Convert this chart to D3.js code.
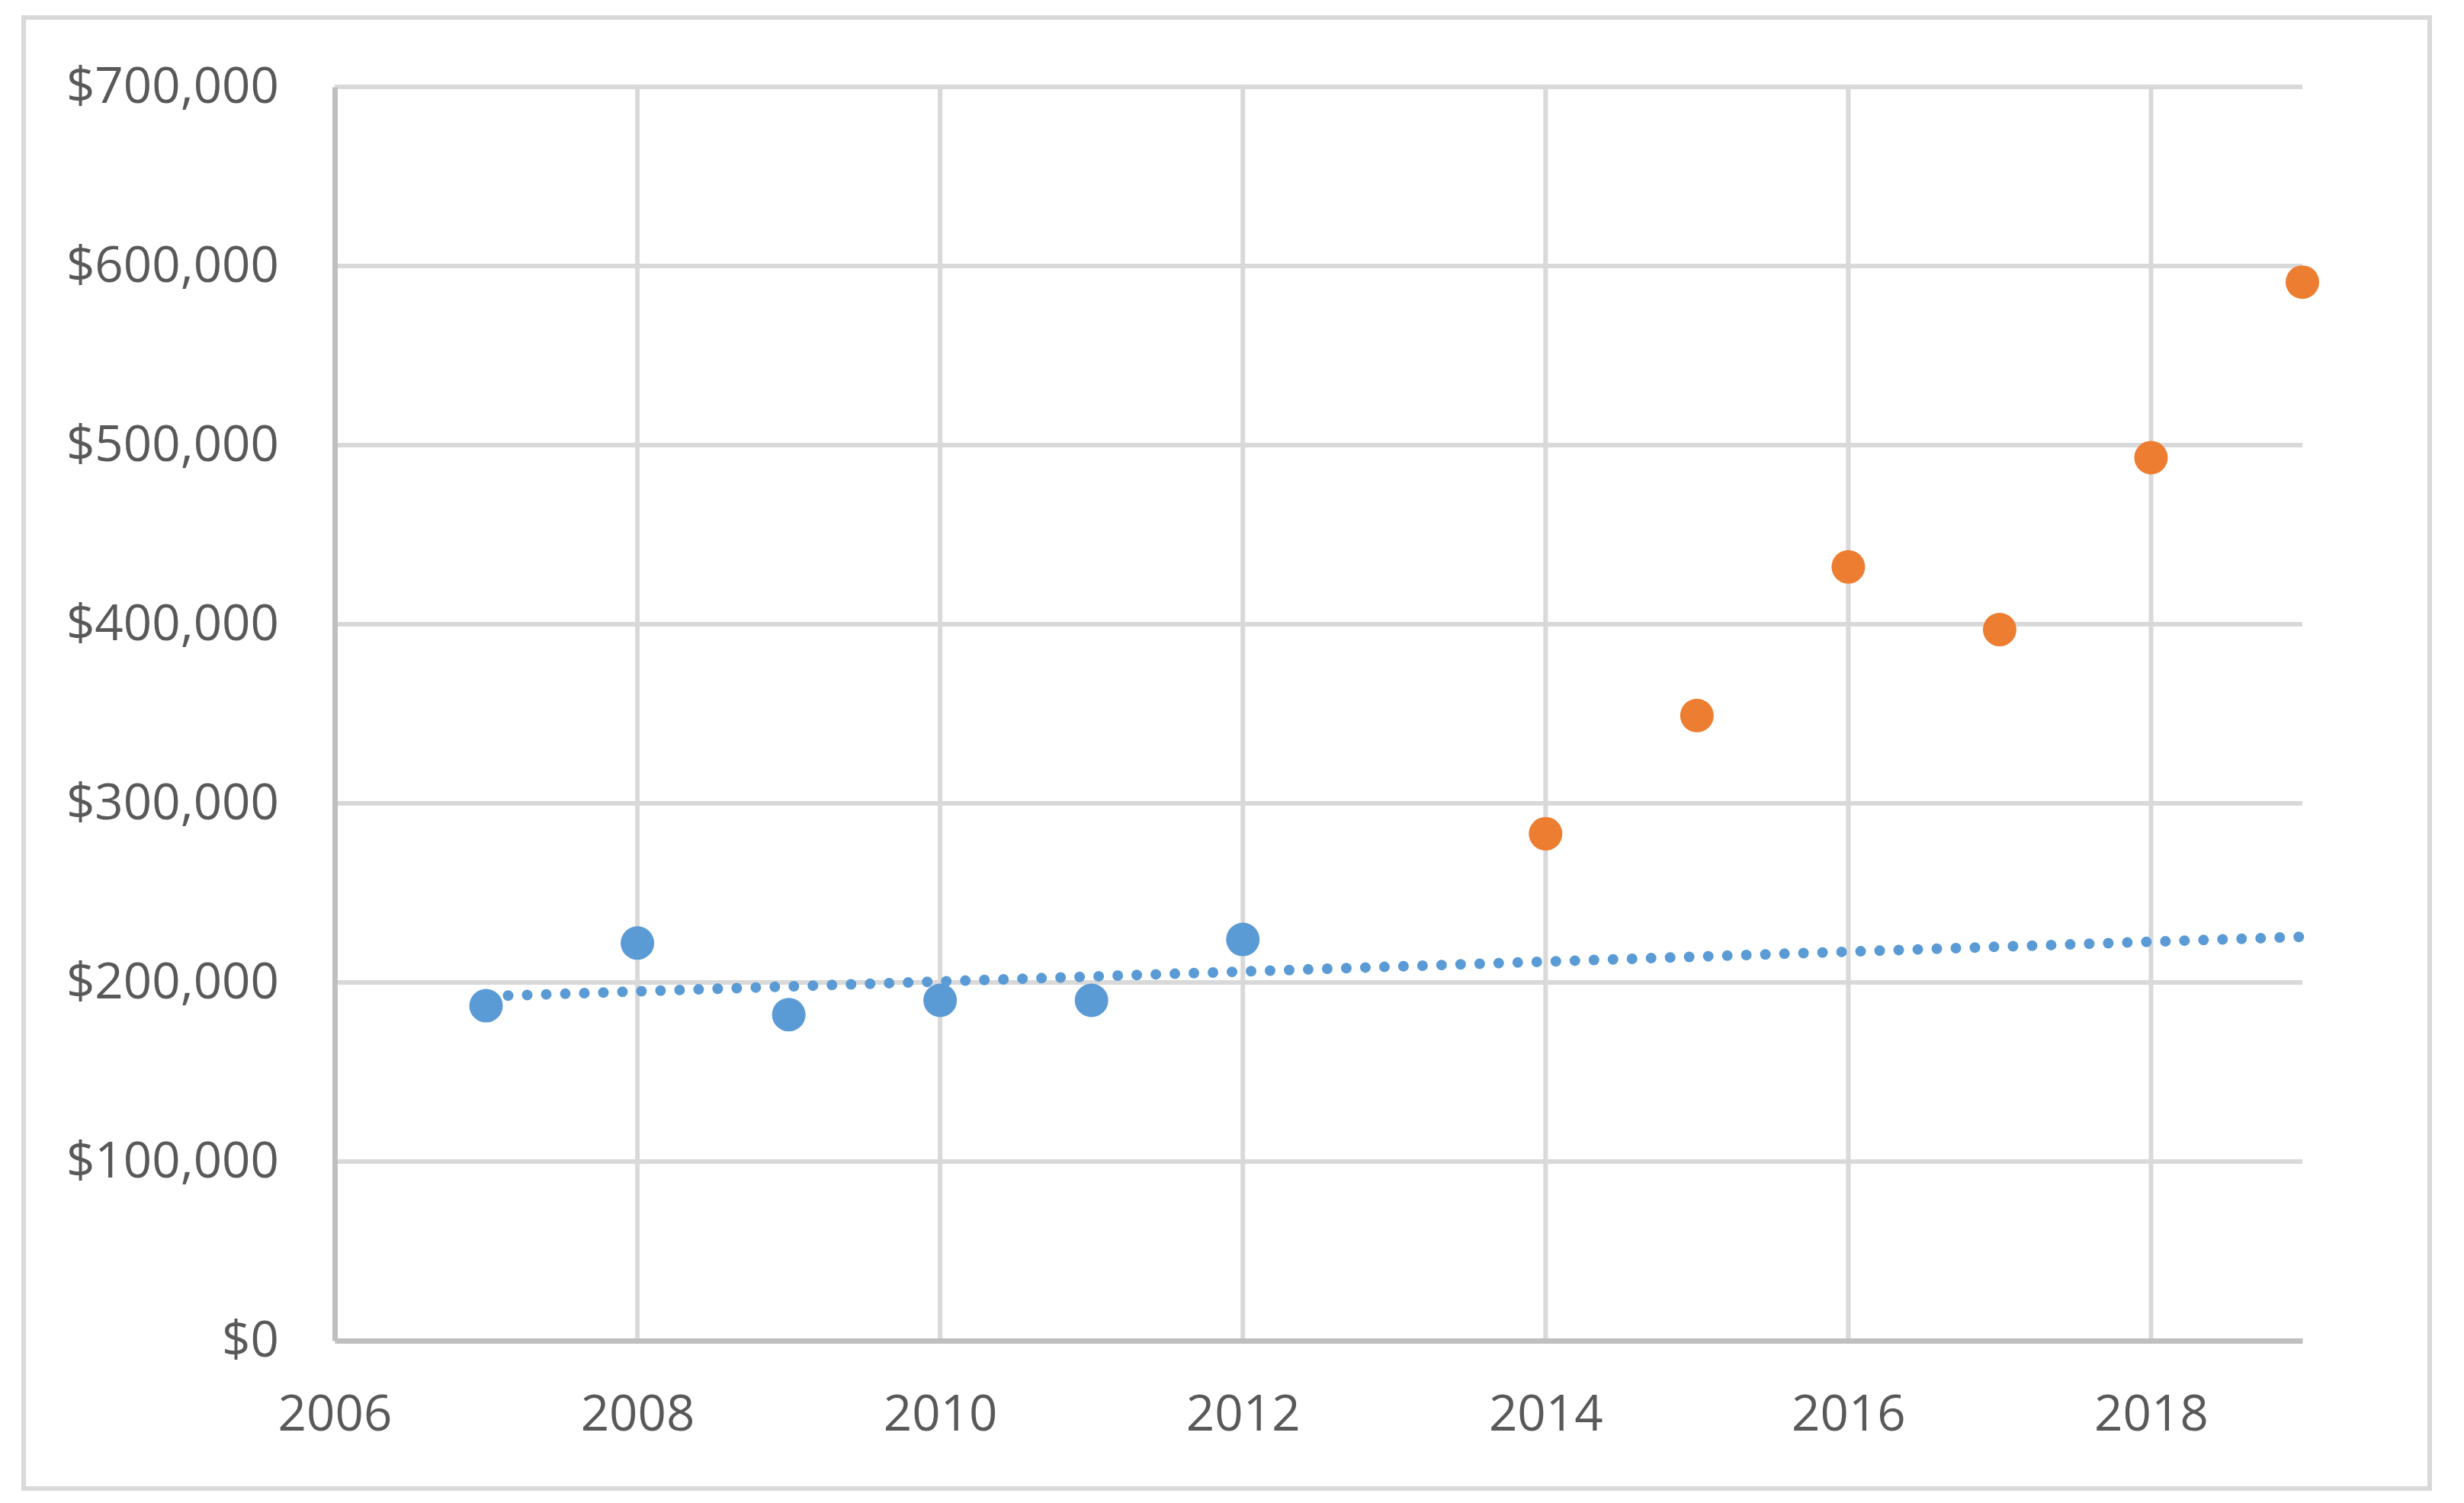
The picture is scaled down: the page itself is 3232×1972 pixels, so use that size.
<!DOCTYPE html>
<html>
<head>
<meta charset="utf-8">
<script src="https://cdn.jsdelivr.net/npm/d3@7"></script>
<style>
  html, body { margin: 0; padding: 0; background: #ffffff; }
  svg { display: block; }
</style>
</head>
<body>
<script>
// ---- Data ----
const blueYears = [2007, 2008, 2009, 2010, 2011, 2012];
const blueValues = [187000, 222000, 182000, 190000, 190000, 224000];
const orangeYears = [2014, 2015, 2016, 2017, 2018, 2019];
const orangeValues = [283000, 349000, 432000, 397000, 493000, 591000];
const xTicks = [2006, 2008, 2010, 2012, 2014, 2016, 2018];
const yTicks = [0, 100000, 200000, 300000, 400000, 500000, 600000, 700000];
const trendEndYear = 2019;

// ---- Layout ----
const W = 3232, H = 1972;
const plot = { left: 439, right: 3020, top: 114, bottom: 1759 };

const svg = d3.select("body").append("svg")
  .attr("width", W).attr("height", H);

svg.append("rect").attr("x", 0).attr("y", 0).attr("width", W).attr("height", H).attr("fill", "#ffffff");

// outer border
svg.append("rect")
  .attr("x", 31).attr("y", 23).attr("width", 3156).attr("height", 1930)
  .attr("fill", "none").attr("stroke", "#d9d9d9").attr("stroke-width", 6);

const x = d3.scaleLinear().domain([2006, 2019]).range([plot.left, plot.right]);
const y = d3.scaleLinear().domain([0, 700000]).range([plot.bottom, plot.top]);

const gridColor = "#d9d9d9", axisColor = "#bfbfbf", textColor = "#595959";
const font = "'Open Sans', 'Noto Sans', sans-serif";
const fontSize = 65.5;

// horizontal gridlines
svg.append("g").selectAll("line").data(yTicks.filter(v => v > 0)).join("line")
  .attr("x1", plot.left).attr("x2", plot.right)
  .attr("y1", d => y(d)).attr("y2", d => y(d))
  .attr("stroke", gridColor).attr("stroke-width", 6);

// vertical gridlines
svg.append("g").selectAll("line").data(xTicks.filter(v => v > 2006)).join("line")
  .attr("x1", d => x(d)).attr("x2", d => x(d))
  .attr("y1", plot.top).attr("y2", plot.bottom)
  .attr("stroke", gridColor).attr("stroke-width", 6);

// axes via d3 axis generators
const yAxis = d3.axisLeft(y).tickValues(yTicks).tickSize(0).tickPadding(73)
  .tickFormat(d => "$" + d3.format(",")(d));
const gy = svg.append("g").attr("transform", `translate(${plot.left},0)`).call(yAxis);
gy.select(".domain").attr("stroke", axisColor).attr("stroke-width", 7);
gy.selectAll("text")
  .attr("font-family", font).attr("font-size", fontSize).attr("fill", textColor)
  .attr("dy", "0.32em");

const xAxis = d3.axisBottom(x).tickValues(xTicks).tickSize(0).tickPadding(71)
  .tickFormat(d3.format("d"));
const gx = svg.append("g").attr("transform", `translate(0,${plot.bottom})`).call(xAxis);
gx.select(".domain").attr("stroke", axisColor).attr("stroke-width", 7);
gx.selectAll("text")
  .attr("font-family", font).attr("font-size", fontSize).attr("fill", textColor);

// linear trendline (least squares on blue series)
const mx = d3.mean(blueYears), my = d3.mean(blueValues);
let sxy = 0, sxx = 0;
blueYears.forEach((xi, i) => { sxy += (xi - mx) * (blueValues[i] - my); sxx += (xi - mx) ** 2; });
const slope = sxy / sxx, intercept = my - slope * mx;
const trendPts = [blueYears[0], trendEndYear].map(t => [t, intercept + slope * t]);
svg.append("path")
  .attr("d", d3.line().x(d => x(d[0])).y(d => y(d[1]))(trendPts))
  .attr("fill", "none").attr("stroke", "#5b9bd5").attr("stroke-width", 14)
  .attr("stroke-linecap", "round").attr("stroke-dasharray", "0 25")
  .attr("stroke-dashoffset", -4);

// markers
svg.append("g").selectAll("circle").data(blueYears).join("circle")
  .attr("cx", d => x(d)).attr("cy", (d, i) => y(blueValues[i])).attr("r", 22)
  .attr("fill", "#5b9bd5");
svg.append("g").selectAll("circle").data(orangeYears).join("circle")
  .attr("cx", d => x(d)).attr("cy", (d, i) => y(orangeValues[i])).attr("r", 22)
  .attr("fill", "#ed7d31");
</script>
</body>
</html>
